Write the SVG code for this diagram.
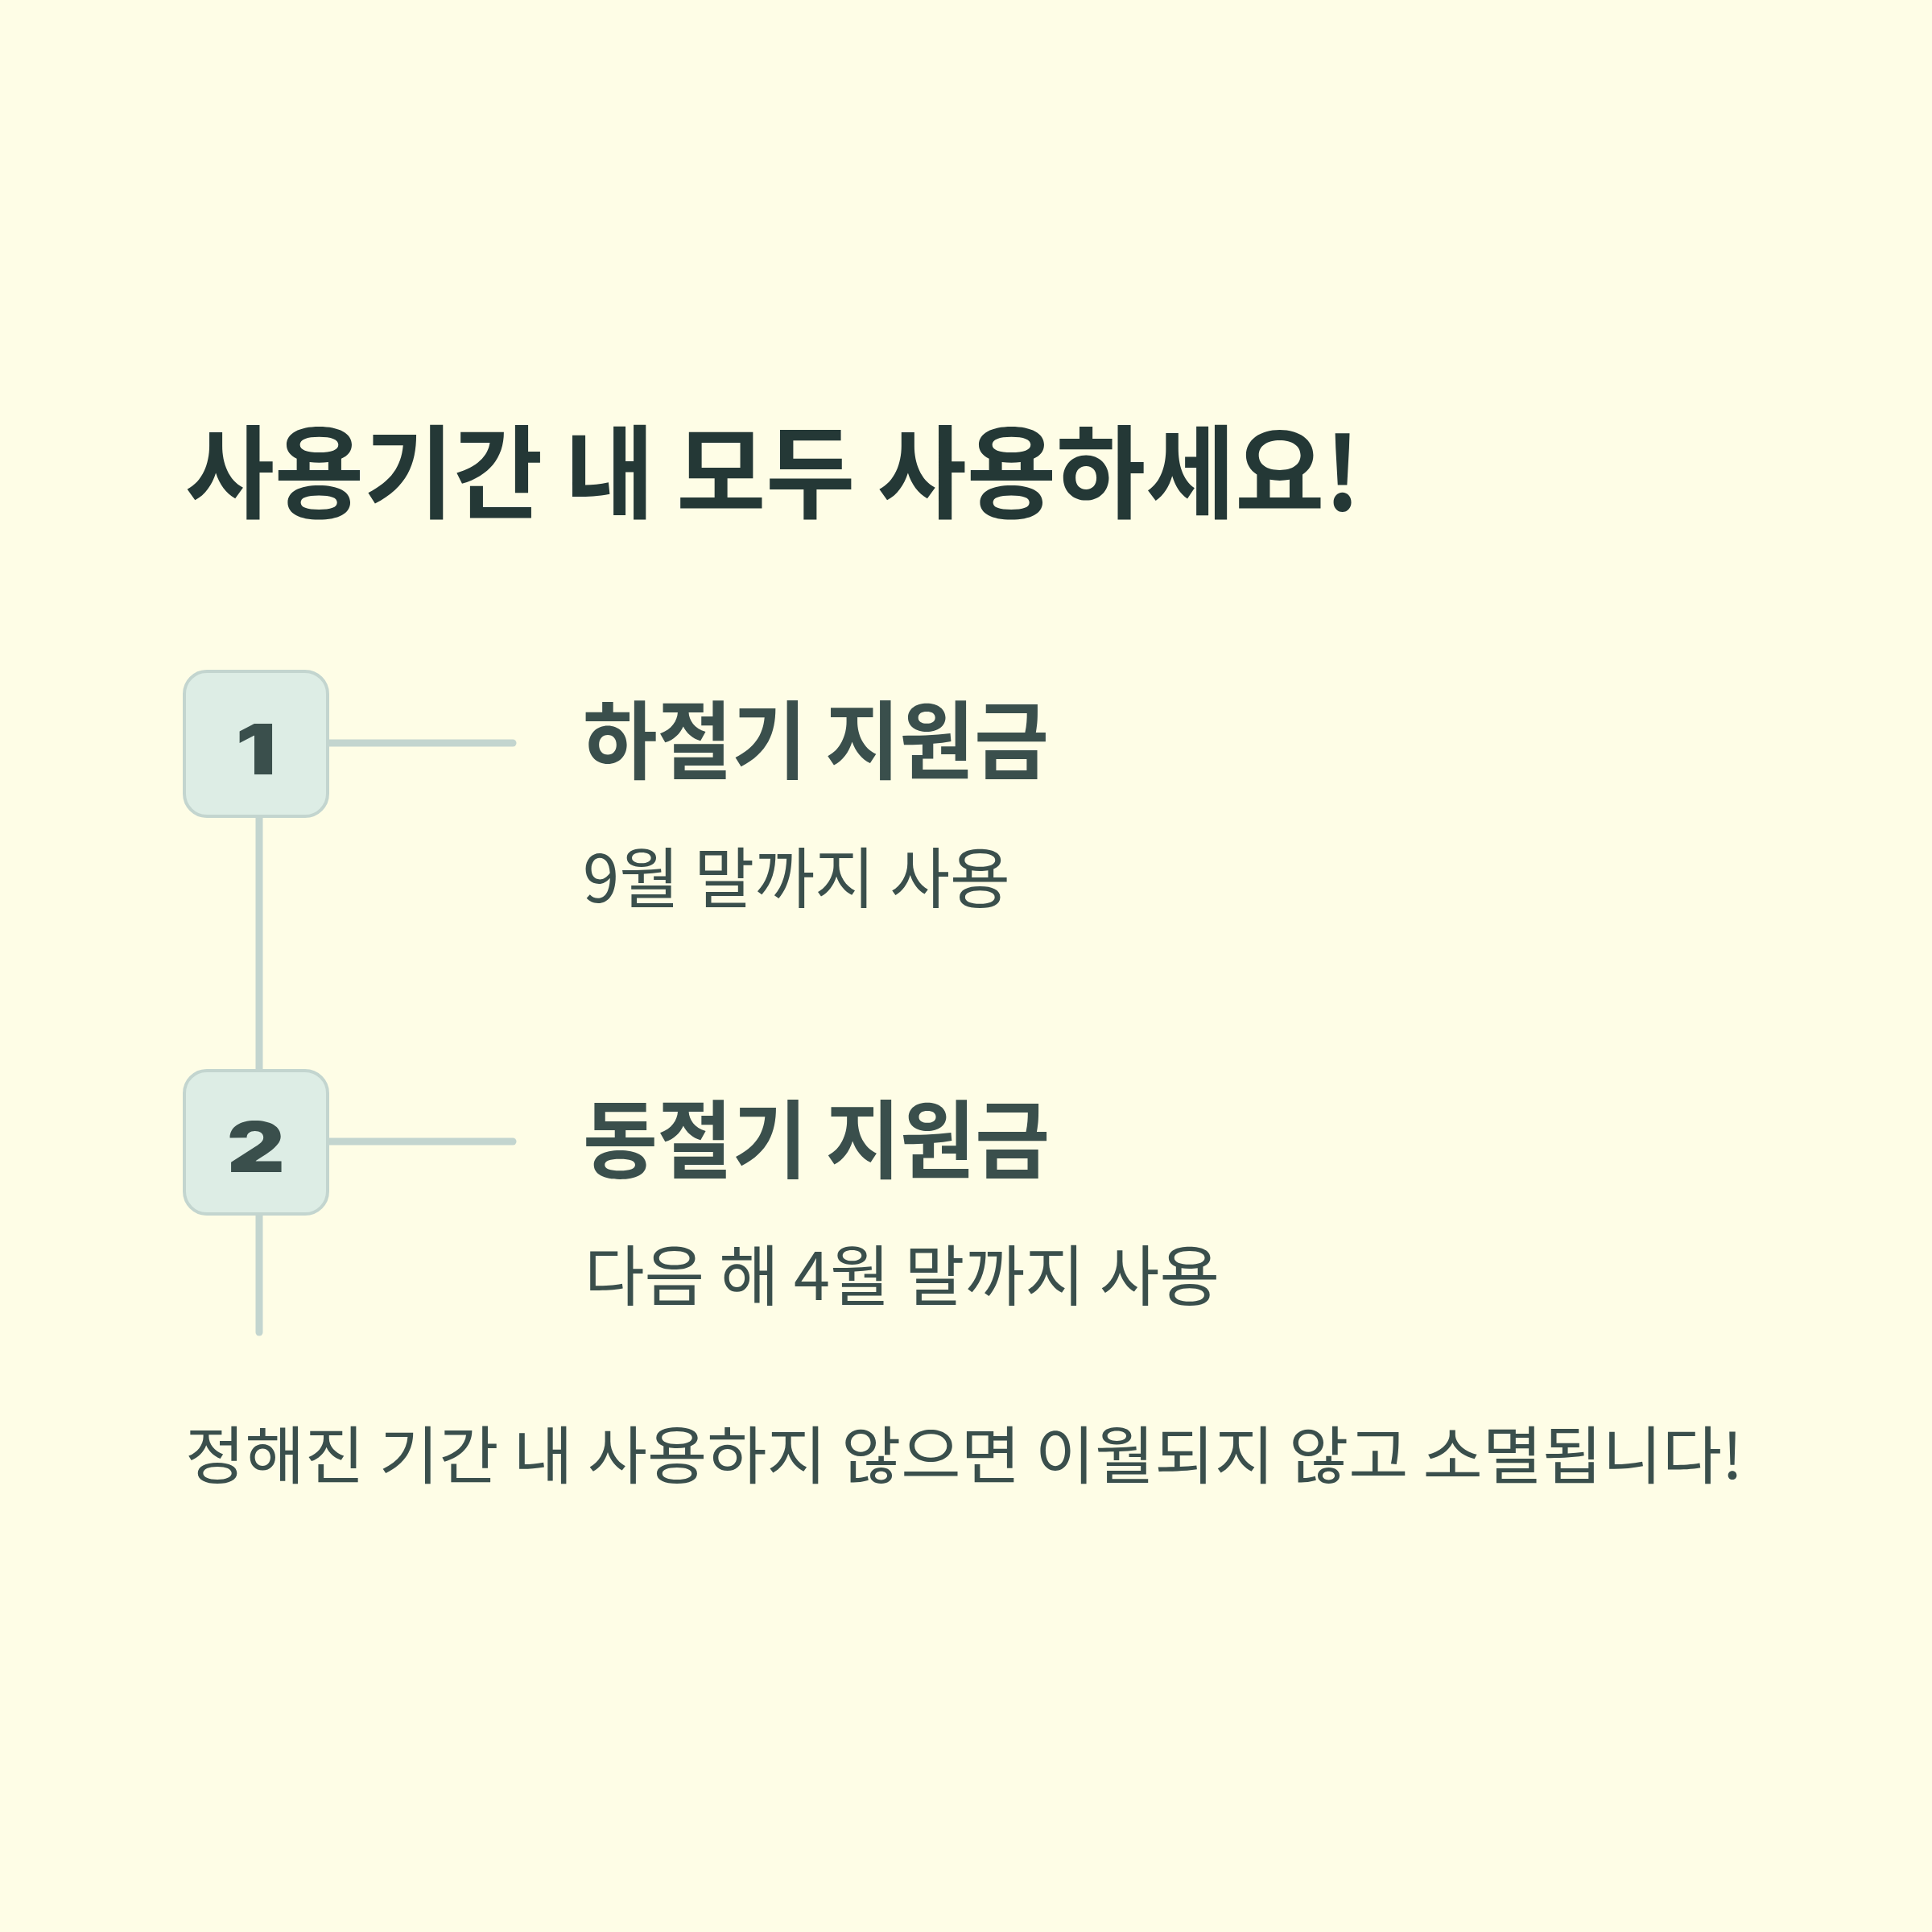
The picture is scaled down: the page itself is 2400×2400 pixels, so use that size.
<svg xmlns="http://www.w3.org/2000/svg" width="2400" height="2400" viewBox="0 0 2400 2400">
<style>
.t{font-family:"Noto Sans CJK KR","Noto Sans",sans-serif;}
.title{font-size:126px;font-weight:700;fill:#243836;}
.head{font-size:106px;font-weight:700;fill:#3a4f4c;}
.sub{font-size:82px;font-weight:400;fill:#3a4f4c;}
.foot{font-size:78px;font-weight:400;fill:#3a4f4c;}
.num{font-family:Inter,"Liberation Sans",sans-serif;font-size:86px;font-weight:900;fill:#3a4f4c;}
.box{fill:#ddede5;stroke:#c3d5cf;stroke-width:4;}
.ln{stroke:#c3d5cf;stroke-width:9;stroke-linecap:round;fill:none;}
</style>
<rect width="2400" height="2400" fill="#fefde6"/>
<g id="connectors">
<line class="ln" x1="322" y1="1015" x2="322" y2="1328"/>
<line class="ln" x1="322" y1="1509" x2="322" y2="1655"/>
<line class="ln" x1="408" y1="923" x2="637" y2="923"/>
<line class="ln" x1="408" y1="1418" x2="637" y2="1418"/>
</g>
<g id="title"><text class="t title" x="230" y="634" textLength="1460" lengthAdjust="spacingAndGlyphs">사용기간 내 모두 사용하세요!</text></g>
<g id="node1">
<rect class="box" x="229" y="834" width="178" height="180" rx="28"/>
<text class="num" transform="translate(318 962) scale(1.3 1)" text-anchor="middle">1</text>
</g>
<g id="node2">
<rect class="box" x="229" y="1330" width="178" height="178" rx="28"/>
<text class="num" transform="translate(318 1456) scale(1.3 1)" text-anchor="middle">2</text>
</g>
<g id="item1">
<text class="t head" x="724" y="959" textLength="579" lengthAdjust="spacingAndGlyphs">하절기 지원금</text>
<text class="t sub" x="724" y="1121" textLength="531" lengthAdjust="spacingAndGlyphs">9월 말까지 사용</text>
</g>
<g id="item2">
<text class="t head" x="724" y="1455" textLength="580" lengthAdjust="spacingAndGlyphs">동절기 지원금</text>
<text class="t sub" x="726" y="1615" textLength="789" lengthAdjust="spacingAndGlyphs">다음 해 4월 말까지 사용</text>
</g>
<g id="footer"><text class="t foot" x="230" y="1837" textLength="1935" lengthAdjust="spacingAndGlyphs">정해진 기간 내 사용하지 않으면 이월되지 않고 소멸됩니다!</text></g>
</svg>
